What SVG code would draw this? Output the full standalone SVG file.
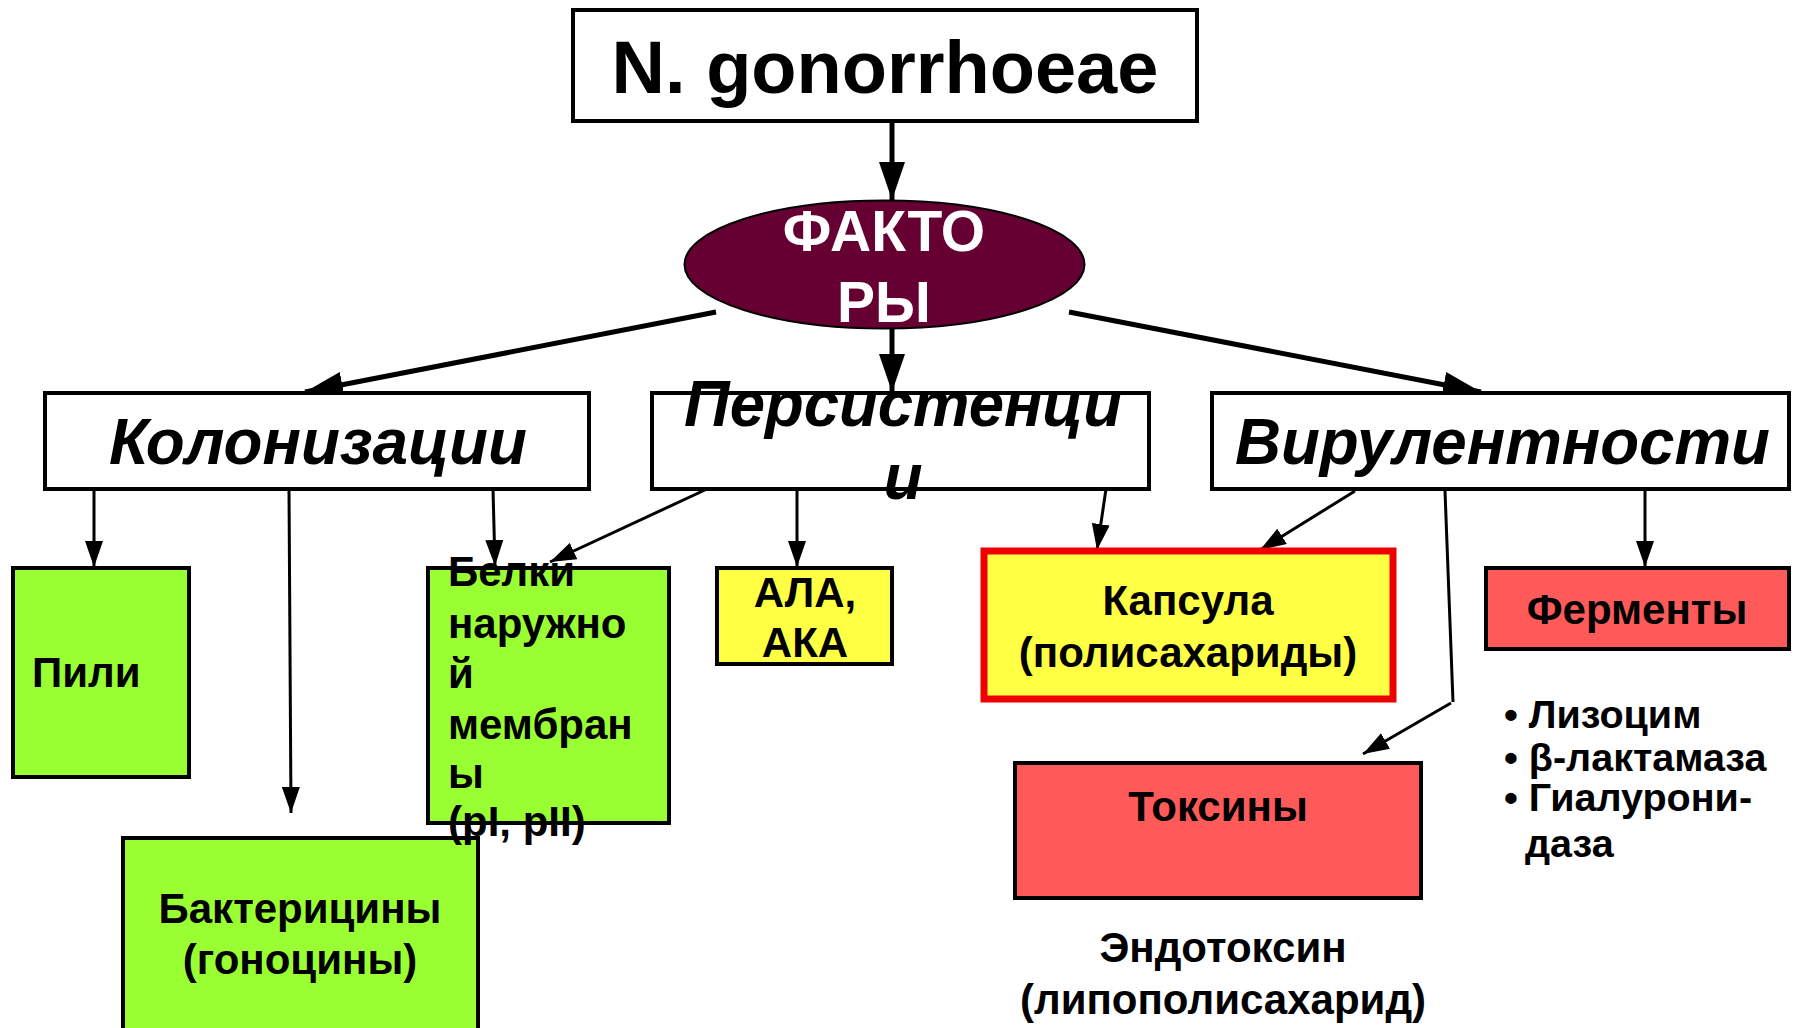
<svg xmlns="http://www.w3.org/2000/svg" width="1796" height="1028" viewBox="0 0 1796 1028">
<defs>
<style>
.box{stroke:#000;stroke-width:4}
.wh{fill:#fff}
.gr{fill:#99FF33}
.ye{fill:#FFFF44}
.rd{fill:#FF5A5A}
.t{font-family:"Liberation Sans",Arial,sans-serif;font-weight:bold;fill:#000}
.n{font-size:42px}
.h{font-size:64px;font-style:italic}
.big{stroke:#000;stroke-width:5;fill:none}
.sm{stroke:#000;stroke-width:3;fill:none}
</style>
<marker id="ab" markerUnits="userSpaceOnUse" markerWidth="40" markerHeight="26" refX="38" refY="13" orient="auto">
<path d="M0,0 L38,13 L0,26 Z" fill="#000"/>
</marker>
<marker id="as" markerUnits="userSpaceOnUse" markerWidth="28" markerHeight="18" refX="26" refY="9" orient="auto">
<path d="M0,0 L26,9 L0,18 Z" fill="#000"/>
</marker>
</defs>
<rect width="1796" height="1028" fill="#fff"/>

<g id="connectors">
<line class="big" x1="892" y1="122" x2="892" y2="200" marker-end="url(#ab)"/>
<line class="big" x1="892" y1="326" x2="892" y2="392" marker-end="url(#ab)"/>
<line class="big" x1="716" y1="312" x2="305" y2="392" marker-end="url(#ab)"/>
<line class="big" x1="1069" y1="312" x2="1481" y2="392" marker-end="url(#ab)"/>
<line class="sm" x1="94" y1="489" x2="94" y2="567" marker-end="url(#as)"/>
<line class="sm" x1="289" y1="489" x2="291" y2="813" marker-end="url(#as)"/>
<line class="sm" x1="493" y1="489" x2="495" y2="566" marker-end="url(#as)"/>
<line class="sm" x1="707" y1="489" x2="550" y2="562" marker-end="url(#as)"/>
<line class="sm" x1="797" y1="489" x2="797" y2="567" marker-end="url(#as)"/>
<line class="sm" x1="1106" y1="489" x2="1097" y2="550" marker-end="url(#as)"/>
<line class="sm" x1="1355" y1="491" x2="1260" y2="550" marker-end="url(#as)"/>
<line class="sm" x1="1445" y1="491" x2="1453" y2="702"/>
<line class="sm" x1="1451" y1="703" x2="1363" y2="754" marker-end="url(#as)"/>
<line class="sm" x1="1645" y1="489" x2="1645" y2="567" marker-end="url(#as)"/>
</g>

<g id="n-gonorrhoeae">
<rect class="box wh" x="573" y="10" width="624" height="111"/>
<text class="t" x="885" y="93" font-size="74" text-anchor="middle">N. gonorrhoeae</text>
</g>

<g id="faktory">
<ellipse cx="884.5" cy="264.5" rx="200" ry="64" fill="#660033" stroke="#000" stroke-width="2"/>
<text class="t" x="884" y="251" font-size="57" text-anchor="middle" style="fill:#fff">ФАКТО</text>
<text class="t" x="884" y="322" font-size="57" text-anchor="middle" style="fill:#fff">РЫ</text>
</g>

<g id="kolonizatsii">
<rect class="box wh" x="45" y="393" width="544" height="96"/>
<text class="t h" x="109" y="464" textLength="418" lengthAdjust="spacingAndGlyphs">Колонизации</text>
</g>

<g id="persistentsii">
<rect class="box wh" x="652" y="393" width="497" height="96"/>
<text class="t h" x="684" y="426" textLength="438" lengthAdjust="spacingAndGlyphs">Персистенци</text>
<text class="t h" x="903" y="499" text-anchor="middle">и</text>
</g>

<g id="virulentnosti">
<rect class="box wh" x="1212" y="393" width="577" height="96"/>
<text class="t h" x="1235" y="464" textLength="535" lengthAdjust="spacingAndGlyphs">Вирулентности</text>
</g>

<g id="pili">
<rect class="box gr" x="13" y="568" width="176" height="209"/>
<text class="t n" x="32" y="687">Пили</text>
</g>

<g id="bakteritsiny">
<rect class="box gr" x="123" y="838" width="355" height="200"/>
<text class="t n" x="300" y="923" text-anchor="middle">Бактерицины</text>
<text class="t n" x="300" y="974" text-anchor="middle">(гоноцины)</text>
</g>

<g id="belki">
<rect class="box gr" x="428" y="568" width="241" height="255"/>
<text class="t n" x="448" y="586">Белки</text>
<text class="t n" x="448" y="638">наружно</text>
<text class="t n" x="448" y="688">й</text>
<text class="t n" x="448" y="739">мембран</text>
<text class="t n" x="448" y="788">ы</text>
<text class="t n" x="448" y="836">(pI, pII)</text>
</g>

<g id="ala-aka">
<rect class="box ye" x="717" y="568" width="175" height="96"/>
<text class="t n" x="805" y="607" text-anchor="middle">АЛА,</text>
<text class="t n" x="805" y="657" text-anchor="middle">АКА</text>
</g>

<g id="kapsula">
<rect x="984" y="551" width="409" height="148" fill="#FFFF44" stroke="#EE0000" stroke-width="7"/>
<text class="t n" x="1188" y="615" text-anchor="middle">Капсула</text>
<text class="t n" x="1188" y="667" text-anchor="middle">(полисахариды)</text>
</g>

<g id="fermenty">
<rect class="box rd" x="1486" y="568" width="303" height="81"/>
<text class="t n" x="1637" y="624" text-anchor="middle">Ферменты</text>
</g>

<g id="fermenty-list">
<text class="t" font-size="39.5" x="1504" y="728">• Лизоцим</text>
<text class="t" font-size="39.5" x="1504" y="771">• β-лактамаза</text>
<text class="t" font-size="39.5" x="1504" y="811">• Гиалурони-</text>
<text class="t" font-size="39.5" x="1525" y="857">даза</text>
</g>

<g id="toksiny">
<rect class="box rd" x="1015" y="763" width="406" height="135"/>
<text class="t n" x="1218" y="821" text-anchor="middle">Токсины</text>
</g>

<g id="endotoksin">
<text class="t n" x="1223" y="962" text-anchor="middle">Эндотоксин</text>
<text class="t n" x="1223" y="1014" text-anchor="middle">(липополисахарид)</text>
</g>
</svg>
